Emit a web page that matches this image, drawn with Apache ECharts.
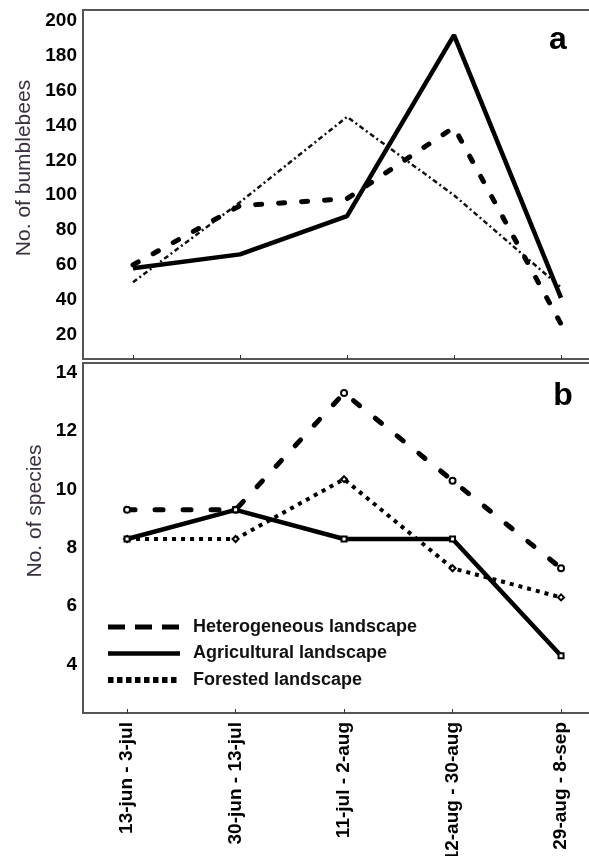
<!DOCTYPE html>
<html>
<head>
<meta charset="utf-8">
<script src="https://cdn.jsdelivr.net/npm/echarts@6/dist/echarts.min.js"></script>
<style>
html,body{margin:0;padding:0;background:#fff;}
#c{width:589px;height:856px;}
</style>
</head>
<body>
<div id="c"></div>
<script>
// ---- data ----
var categories = ['13-jun - 3-jul', '30-jun - 13-jul', '11-jul - 2-aug', '12-aug - 30-aug', '29-aug - 8-sep'];
var seriesNames = ['Heterogeneous landscape', 'Agricultural landscape', 'Forested landscape'];
// panel a: No. of bumblebees
var beesHetero = [60, 94, 98, 139, 26];
var beesAgri = [58, 66, 88, 192, 41];
var beesForest = [50, 96, 145, 100, 47];
// panel b: No. of species
var speciesHetero = [9.3, 9.3, 13.3, 10.3, 7.3];
var speciesAgri = [8.3, 9.3, 8.3, 8.3, 4.3];
var speciesForest = [8.3, 8.3, 10.35, 7.3, 6.3];
// tick labels
var beesTicks = [20, 40, 60, 80, 100, 120, 140, 160, 180, 200];
var speciesTicks = [4, 6, 8, 10, 12, 14];

function pairs(arr) { return arr.map(function (v, i) { return [i, v]; }); }
var idx = categories.map(function (c, i) { return i; });

var FONT = "'Liberation Sans', Arial, sans-serif";
var chart = echarts.init(document.getElementById('c'), null, {renderer: 'canvas'});

var gridStyle = {show: true, borderColor: '#555', borderWidth: 2, backgroundColor: 'transparent',
  containLabel: false, outerBoundsMode: 'none'};

var option = {
  animation: false,
  backgroundColor: '#fff',
  grid: [
    Object.assign({left: 83, top: 10, width: 531.5, height: 349}, gridStyle),
    Object.assign({left: 83, top: 363, width: 532.3, height: 350}, gridStyle)
  ],
  xAxis: [
    {type: 'value', gridIndex: 0, min: -0.467, max: 4.5,
     axisLine: {show: false}, splitLine: {show: false},
     axisTick: {show: true, inside: true, length: 4, customValues: idx, lineStyle: {color: '#333', width: 1}},
     axisLabel: {show: false}},
    {type: 'value', gridIndex: 1, min: -0.406, max: 4.5,
     axisLine: {show: false}, splitLine: {show: false},
     axisTick: {show: true, inside: true, length: 4, customValues: idx, lineStyle: {color: '#333', width: 1}},
     axisLabel: {show: true, customValues: idx, rotate: 90, margin: 9, color: '#000',
       fontFamily: FONT, fontWeight: 'bold', fontSize: 19,
       formatter: function (v) { return categories[Math.round(v)] || ''; }}}
  ],
  yAxis: [
    {type: 'value', gridIndex: 0, min: 5.9, max: 206.4,
     axisLine: {show: false}, axisTick: {show: false}, splitLine: {show: false},
     axisLabel: {customValues: beesTicks, margin: 6, color: '#000', fontFamily: FONT, fontWeight: 'bold', fontSize: 19}},
    {type: 'value', gridIndex: 1, min: 2.34, max: 14.33,
     axisLine: {show: false}, axisTick: {show: false}, splitLine: {show: false},
     axisLabel: {customValues: speciesTicks, margin: 6, color: '#000', fontFamily: FONT, fontWeight: 'bold', fontSize: 19}}
  ],
  legend: {
    show: true, orient: 'vertical', left: 105, top: 618, padding: 0,
    itemWidth: 72, itemHeight: 14, itemGap: 8.5, selectedMode: false,
    textStyle: {color: '#111', fontFamily: FONT, fontWeight: 'bold', fontSize: 18, padding: [0, 0, 0, 8]},
    data: [
      {name: seriesNames[0], itemStyle: {opacity: 0}, lineStyle: {color: '#000', width: 5, type: [17, 10], cap: 'butt'}},
      {name: seriesNames[1], itemStyle: {opacity: 0}, lineStyle: {color: '#000', width: 4.5, type: 'solid'}},
      {name: seriesNames[2], itemStyle: {opacity: 0}, lineStyle: {color: '#000', width: 6, type: [5.5, 3.5], cap: 'butt'}}
    ]
  },
  series: [
    // panel b
    {name: seriesNames[0], type: 'line', xAxisIndex: 1, yAxisIndex: 1, data: pairs(speciesHetero),
     symbol: 'emptyCircle', symbolSize: 6, itemStyle: {color: '#000', borderWidth: 1},
     lineStyle: {color: '#000', width: 5, type: [8, 20], cap: 'round'}, z: 3},
    {name: seriesNames[1], type: 'line', xAxisIndex: 1, yAxisIndex: 1, data: pairs(speciesAgri),
     symbol: 'emptyRect', symbolSize: 5, itemStyle: {color: '#000', borderWidth: 1},
     lineStyle: {color: '#000', width: 4.5, type: 'solid'}, z: 4},
    {name: seriesNames[2], type: 'line', xAxisIndex: 1, yAxisIndex: 1, data: pairs(speciesForest),
     symbol: 'emptyDiamond', symbolSize: 6, itemStyle: {color: '#000', borderWidth: 1},
     lineStyle: {color: '#000', width: 4, type: [4, 5], cap: 'butt'}, z: 2},
    // panel a
    {name: seriesNames[0], type: 'line', xAxisIndex: 0, yAxisIndex: 0, data: pairs(beesHetero),
     symbol: 'none', lineStyle: {color: '#000', width: 5, type: [6, 17], cap: 'round'}, z: 3},
    {name: seriesNames[1], type: 'line', xAxisIndex: 0, yAxisIndex: 0, data: pairs(beesAgri),
     symbol: 'none', lineStyle: {color: '#000', width: 4.5, type: 'solid'}, z: 4},
    {name: seriesNames[2], type: 'line', xAxisIndex: 0, yAxisIndex: 0, data: pairs(beesForest),
     symbol: 'none', lineStyle: {color: '#111', width: 2.5, type: [5, 3, 2, 3]}, z: 2}
  ],
  graphic: [
    {type: 'text', x: 24, y: 168, rotation: Math.PI / 2, silent: true,
     style: {text: 'No. of bumblebees', fill: '#3a3040', font: "21px 'Liberation Sans', Arial, sans-serif", align: 'center', verticalAlign: 'middle'}},
    {type: 'text', x: 35, y: 511, rotation: Math.PI / 2, silent: true,
     style: {text: 'No. of species', fill: '#3a3040', font: "21px 'Liberation Sans', Arial, sans-serif", align: 'center', verticalAlign: 'middle'}},
    {type: 'text', x: 558, y: 40, silent: true,
     style: {text: 'a', fill: '#000', font: "bold 32px 'Liberation Sans', Arial, sans-serif", align: 'center', verticalAlign: 'middle'}},
    {type: 'text', x: 563, y: 396, silent: true,
     style: {text: 'b', fill: '#000', font: "bold 32px 'Liberation Sans', Arial, sans-serif", align: 'center', verticalAlign: 'middle'}}
  ]
};
chart.setOption(option);
</script>
</body>
</html>
